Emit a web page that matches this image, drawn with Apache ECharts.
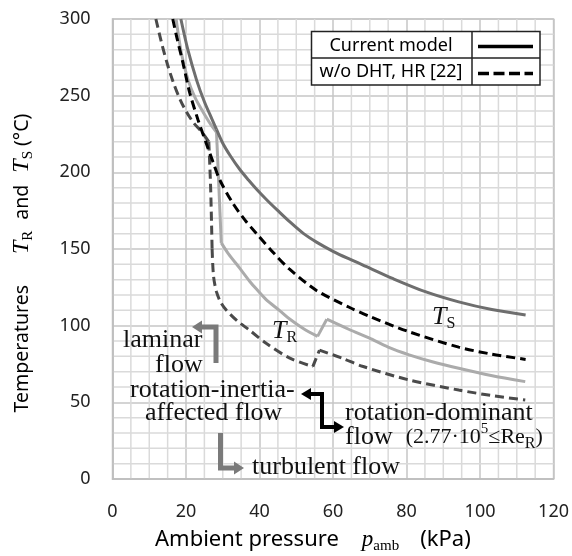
<!DOCTYPE html>
<html><head><meta charset="utf-8">
<script src="https://cdn.jsdelivr.net/npm/echarts@6/dist/echarts.min.js"></script>
<style>html,body{margin:0;padding:0;background:#fff}#c{width:572px;height:556px}</style>
</head><body><div id="c"></div>
<script>
// ---- data (x: ambient pressure kPa, y: temperature °C) ----
// T_S, current model (solid dark gray)
const tsCurX = [18.6, 20.5, 22.9, 25.0, 27.0, 28.3, 30.0, 32.0, 34.6, 37.0, 39.2, 42.0, 45.0, 48.1, 52.0, 55.5, 60.0, 64.4, 70.0, 76.0, 85.3, 94.2, 103.2, 112.4];
const tsCurY = [300, 280, 260, 246, 235, 228, 219, 211, 202, 195, 189, 182, 175, 168, 160, 154.5, 148.5, 143.5, 137.5, 131, 122, 115.5, 110.5, 107];
const tsCurBreaks = [5];
// T_S, w/o DHT, HR [22] (black dashed)
const tsWoX = [16.4, 17.5, 19.2, 21.0, 23.3, 25.5, 27.3, 29.2, 32.7, 36.0, 39.2, 44.0, 48.1, 55.5, 64.4, 70.0, 80.7, 94.2, 103.0, 112.4];
const tsWoY = [300, 288, 271, 252, 234, 219, 207, 195, 180, 169, 160, 147, 137, 123, 112, 106, 96, 86, 81.5, 78];
const tsWoBreaks = [];
// T_R, current model (solid light gray)
const trCurX = [17.3, 18.8, 20.6, 22.5, 24.6, 26.5, 28.3, 29.6, 31.5, 34.6, 37.3, 39.1, 41.8, 45.4, 48.1, 52.0, 55.8, 58.3, 64.4, 69.8, 75.0, 80.7, 87.0, 94.2, 103.0, 112.3];
const trCurY = [300, 277, 260, 248.5, 239.5, 232, 226, 154, 147, 137.5, 129, 124, 117, 110, 104.5, 98, 93, 104.2, 97.5, 92, 86, 81, 76.5, 72.2, 67.5, 63.5];
const trCurBreaks = [6, 7, 16, 17];
// T_R, w/o DHT, HR [22] (dark gray dashed)
const trWoX = [11.8, 13.5, 15.0, 16.5, 18.3, 20.1, 22.0, 24.2, 26.2, 26.7, 27.1, 27.5, 28.3, 29.5, 31.0, 34.0, 37.3, 41.8, 48.1, 54.5, 56.3, 62.6, 68.0, 80.7, 94.2, 103.0, 112.3];
const trWoY = [300, 283, 270, 259, 248, 239.5, 232.5, 226.5, 220, 190, 150, 132, 122, 115, 110, 103, 97, 88.5, 79, 73.3, 84, 78.7, 73.5, 64.6, 58, 54.5, 51.5];
const trWoBreaks = [8, 10, 19, 20];

const xMin = 0, xMax = 120, xStep = 20, xMinorStep = 5;
const yMin = 0, yMax = 300, yStep = 50, yMinorStep = 10;
const legendNames = ['Current model', 'w/o DHT, HR [22]'];

// split a curve into pieces at its corner points, so that smoothing never rounds a corner
function pieces(xs, ys, breaks) {
  const cuts = [0].concat(breaks, [xs.length - 1]);
  const out = [];
  for (let k = 0; k < cuts.length - 1; k++) {
    const seg = [];
    for (let i = cuts[k]; i <= cuts[k + 1]; i++) seg.push([xs[i], ys[i]]);
    if (seg.length > 1) out.push(seg);
  }
  return out;
}

const SANS = '"Noto Sans", sans-serif';
const SERIF = '"Liberation Serif", serif';

function curveSeries(name, xs, ys, breaks, lineStyle, z) {
  return pieces(xs, ys, breaks).map(seg => ({
    name: name, type: 'line', data: seg, showSymbol: false, symbol: 'none', clip: true,
    smooth: 0.3, z: z, lineStyle: lineStyle, emphasis: {disabled: true}
  }));
}

// minor grid drawn through the axes' own scales
const xMinorVals = [];
for (let v = xMin + xMinorStep; v < xMax; v += xMinorStep) if (v % xStep !== 0) xMinorVals.push(v);
const yMinorVals = [];
for (let v = yMin + yMinorStep; v < yMax; v += yMinorStep) if (v % yStep !== 0) yMinorVals.push(v);

function minorGridSeries(vals, vertical) {
  return {
    type: 'custom', silent: true, z: 1, clip: true,
    data: vals.map(v => vertical ? [v, yMin] : [xMin, v]),
    renderItem: function (params, api) {
      const v = vertical ? api.value(0) : api.value(1);
      const p1 = vertical ? api.coord([v, yMin]) : api.coord([xMin, v]);
      const p2 = vertical ? api.coord([v, yMax]) : api.coord([xMax, v]);
      return {type: 'line', shape: {x1: p1[0], y1: p1[1], x2: p2[0], y2: p2[1]},
              style: {stroke: '#dadada', lineWidth: 1.5}};
    }
  };
}

const chart = echarts.init(document.getElementById('c'), null, {renderer: 'canvas'});

function serifText(x, y, text, rich, align) {
  return {
    type: 'text', x: x, y: y, z: 100,
    style: {text: text, textAlign: align || 'left', textVerticalAlign: 'middle', rich: rich}
  };
}
const annRich = {
  n: {fontFamily: SERIF, fontSize: 26, fill: '#111', lineHeight: 30},
  m: {fontFamily: SERIF, fontSize: 22, fill: '#111', lineHeight: 30},
  sup: {fontFamily: SERIF, fontSize: 15, fill: '#111', lineHeight: 15, verticalAlign: 'top'},
  sub: {fontFamily: SERIF, fontSize: 16, fill: '#111', lineHeight: 16, verticalAlign: 'bottom'},
  it: {fontFamily: SERIF, fontStyle: 'italic', fontSize: 26, fill: '#111', lineHeight: 30}
};

const grayArrow = '#7a7a7a';

const series = [].concat(
  [minorGridSeries(xMinorVals, true), minorGridSeries(yMinorVals, false)],
  curveSeries('T_R current model', trCurX, trCurY, trCurBreaks, {color: '#ababab', width: 3}, 2),
  curveSeries('T_S current model', tsCurX, tsCurY, tsCurBreaks, {color: '#6e6e6e', width: 3}, 3),
  curveSeries('T_R w/o DHT, HR [22]', trWoX, trWoY, trWoBreaks, {color: '#4a4a4a', width: 3, type: [9, 5]}, 4),
  curveSeries('T_S w/o DHT, HR [22]', tsWoX, tsWoY, tsWoBreaks, {color: '#000', width: 3, type: [9, 5]}, 5)
);

chart.setOption({
  animation: false,
  backgroundColor: '#fff',
  grid: {left: 112.5, right: 17, top: 19, bottom: 77, show: true, borderColor: '#c4c4c4', borderWidth: 1.5},
  xAxis: {
    type: 'value', min: xMin, max: xMax, interval: xStep, z: 1,
    axisLine: {show: true, lineStyle: {color: '#bdbdbd', width: 1.5}},
    axisTick: {show: false},
    axisLabel: {margin: 24, fontFamily: SANS, fontSize: 18, color: '#222'},
    splitLine: {show: true, lineStyle: {color: '#c6c6c6', width: 1.5}}
  },
  yAxis: {
    type: 'value', min: yMin, max: yMax, interval: yStep, z: 1,
    axisLine: {show: true, lineStyle: {color: '#bdbdbd', width: 1.5}},
    axisTick: {show: false},
    axisLabel: {margin: 22, fontFamily: SANS, fontSize: 18, color: '#222'},
    splitLine: {show: true, lineStyle: {color: '#c6c6c6', width: 1.5}}
  },
  series: series,
  graphic: [
    // y axis title
    {
      type: 'text', x: 22, y: 263, rotation: Math.PI / 2, z: 100,
      style: {
        text: '{s|Temperatures}{t|T}{sub|R}{a|and}{t2|T}{sub|S}{c|(°C)}',
        textAlign: 'center', textVerticalAlign: 'middle',
        rich: {
          s: {fontFamily: SANS, fontSize: 19.5, fill: '#000', lineHeight: 28},
          a: {fontFamily: SANS, fontSize: 19.5, fill: '#000', lineHeight: 28, padding: [0, 0, 0, 11]},
          c: {fontFamily: SANS, fontSize: 19.5, fill: '#000', lineHeight: 28, padding: [0, 0, 0, 5]},
          t: {fontFamily: SERIF, fontStyle: 'italic', fontSize: 24, fill: '#000', lineHeight: 28, padding: [0, 0, 0, 31]},
          t2: {fontFamily: SERIF, fontStyle: 'italic', fontSize: 24, fill: '#000', lineHeight: 28, padding: [0, 0, 0, 12]},
          sub: {fontFamily: SERIF, fontSize: 15, fill: '#000', lineHeight: 15, verticalAlign: 'bottom'}
        }
      }
    },
    // x axis title
    {
      type: 'text', x: 155, y: 540, z: 100,
      style: {
        text: '{s|Ambient pressure}{p|p}{sub|amb}{k|(kPa)}',
        textAlign: 'left', textVerticalAlign: 'middle',
        rich: {
          s: {fontFamily: SANS, fontSize: 22, fill: '#000', lineHeight: 28},
          p: {fontFamily: SERIF, fontStyle: 'italic', fontSize: 23, fill: '#000', lineHeight: 28, padding: [0, 0, 0, 23]},
          sub: {fontFamily: SERIF, fontSize: 15, fill: '#000', lineHeight: 15, verticalAlign: 'bottom'},
          k: {fontFamily: SANS, fontSize: 22, fill: '#000', lineHeight: 28, padding: [0, 0, 0, 21]}
        }
      }
    },
    // legend table
    {type: 'rect', z: 90, shape: {x: 311.5, y: 31.5, width: 228.5, height: 53.5},
     style: {fill: '#fff', stroke: '#222', lineWidth: 1.5}},
    {type: 'line', z: 91, shape: {x1: 311.5, y1: 58, x2: 540, y2: 58}, style: {stroke: '#222', lineWidth: 1.5}},
    {type: 'line', z: 91, shape: {x1: 472, y1: 31.5, x2: 472, y2: 85}, style: {stroke: '#222', lineWidth: 1.5}},
    {type: 'text', z: 92, x: 391, y: 45.5,
     style: {text: legendNames[0], textAlign: 'center', textVerticalAlign: 'middle', fontFamily: SANS, fontSize: 18, fill: '#000'}},
    {type: 'text', z: 92, x: 391, y: 72,
     style: {text: legendNames[1], textAlign: 'center', textVerticalAlign: 'middle', fontFamily: SANS, fontSize: 18, fill: '#000'}},
    {type: 'line', z: 92, shape: {x1: 478, y1: 46.5, x2: 533, y2: 46.5}, style: {stroke: '#000', lineWidth: 3.5}},
    {type: 'line', z: 92, shape: {x1: 478, y1: 73.5, x2: 533, y2: 73.5}, style: {stroke: '#000', lineWidth: 3.5, lineDash: [11, 4.5]}},

    // curve labels
    serifText(272, 331, '{it|T}{sub|R}', annRich),
    serifText(432, 317, '{it|T}{sub|S}', annRich),

    // annotation texts
    serifText(123, 340, '{n|laminar}', annRich),
    serifText(155, 365, '{n|flow}', annRich),
    serifText(130, 390, '{n|rotation-inertia-}', annRich),
    serifText(145, 413, '{n|affected flow}', annRich),
    serifText(345, 413, '{n|rotation-dominant}', annRich),
    serifText(345, 437, '{n|flow  }{m|(2.77·10}{sup|5}{m|≤Re}{sub|R}{m|)}', annRich),
    serifText(252, 467, '{n|turbulent flow}', annRich),

    // laminar arrow (gray)
    {type: 'polyline', z: 95, shape: {points: [[216, 363], [216, 327], [201, 327]]},
     style: {stroke: grayArrow, lineWidth: 5, fill: null, lineJoin: 'miter'}},
    {type: 'polygon', z: 95, shape: {points: [[192, 327], [202, 320.5], [202, 333.5]]}, style: {fill: grayArrow}},
    // turbulent arrow (gray)
    {type: 'polyline', z: 95, shape: {points: [[220.5, 433], [220.5, 468], [235, 468]]},
     style: {stroke: grayArrow, lineWidth: 5, fill: null, lineJoin: 'miter'}},
    {type: 'polygon', z: 95, shape: {points: [[244, 468], [234, 461.5], [234, 474.5]]}, style: {fill: grayArrow}},
    // black double arrow
    {type: 'polyline', z: 95, shape: {points: [[309, 394], [322, 394], [322, 427], [335, 427]]},
     style: {stroke: '#000', lineWidth: 4, fill: null, lineJoin: 'miter'}},
    {type: 'polygon', z: 95, shape: {points: [[301, 394], [311, 388], [311, 400]]}, style: {fill: '#000'}},
    {type: 'polygon', z: 95, shape: {points: [[344, 427], [334, 421], [334, 433]]}, style: {fill: '#000'}}
  ]
});
</script>
</body></html>
